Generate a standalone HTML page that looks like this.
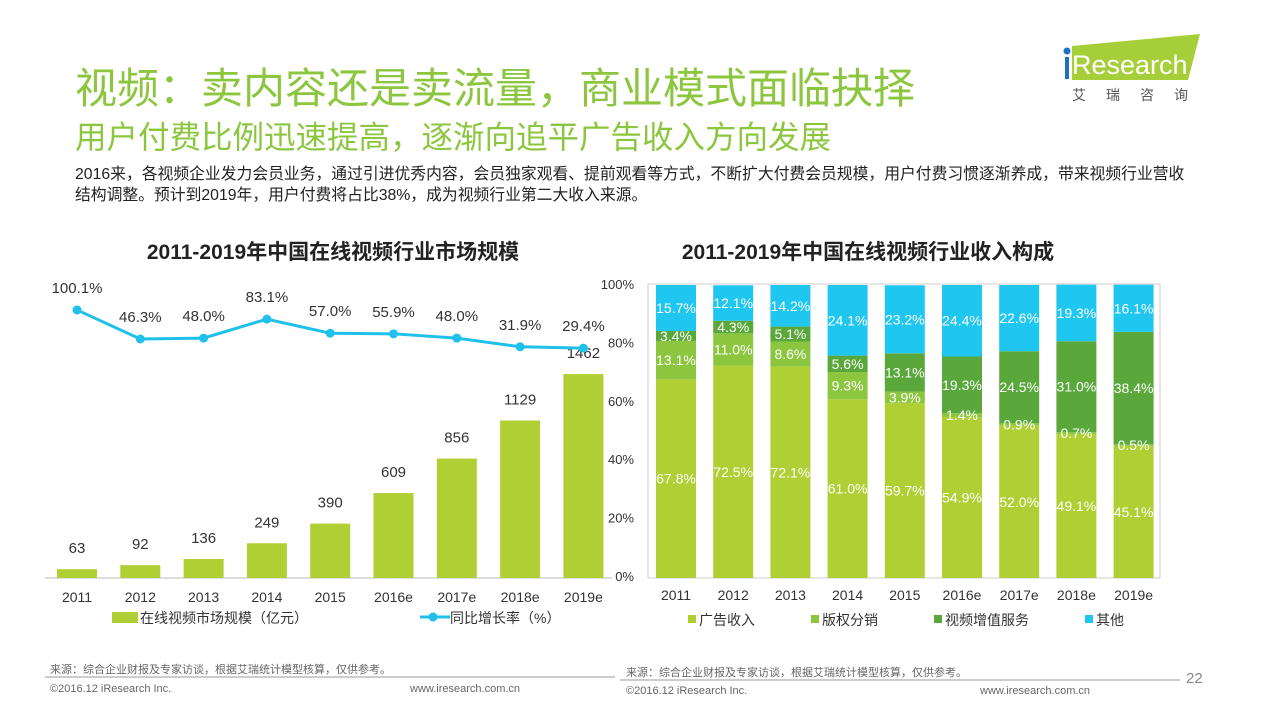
<!DOCTYPE html>
<html><head><meta charset="utf-8"><style>
body{margin:0;width:1266px;height:712px;background:#fff;overflow:hidden;font-family:"Liberation Sans","Noto Sans CJK SC",sans-serif;position:relative}
.abs{position:absolute;white-space:nowrap}
svg text{font-family:"Liberation Sans","Noto Sans CJK SC",sans-serif}
</style></head><body>
<div class="abs" style="left:75px;top:55px;font-size:42px;color:#8cc63f">视频：卖内容还是卖流量，商业模式面临抉择</div>
<div class="abs" style="left:75px;top:112px;font-size:31.5px;color:#8cc63f">用户付费比例迅速提高，逐渐向追平广告收入方向发展</div>
<div class="abs" style="left:75px;top:164px;font-size:15.8px;line-height:21px;color:#222">2016来，各视频企业发力会员业务，通过引进优秀内容，会员独家观看、提前观看等方式，不断扩大付费会员规模，用户付费习惯逐渐养成，带来视频行业营收<br>结构调整。预计到2019年，用户付费将占比38%，成为视频行业第二大收入来源。</div>
<div class="abs" style="left:1060px;top:34px;width:145px;height:70px">
<svg width="145" height="70"><polygon points="12,12 140,0 128,46 12,46" fill="#a6ce39"/><circle cx="7" cy="17" r="3.5" fill="#1e73be"/><rect x="5" y="23" width="4" height="22" fill="#1e73be"/>
<text x="12" y="40" font-size="27" fill="#fff">Research</text>
<text x="12" y="66" font-size="14" fill="#555" letter-spacing="20">艾瑞咨询</text></svg></div>

<svg class="abs" style="left:0;top:0" width="1266" height="712" id="charts">
<text x="333" y="259" text-anchor="middle" font-size="21" font-weight="bold" fill="#222">2011-2019年中国在线视频行业市场规模</text>
<text x="868" y="259" text-anchor="middle" font-size="21" font-weight="bold" fill="#222">2011-2019年中国在线视频行业收入构成</text>
<g id="left"></g><g id="right"></g><g id="rlabels"></g>
<line x1="45" y1="677" x2="615" y2="677" stroke="#999"/><line x1="620" y1="680" x2="1180" y2="680" stroke="#999"/>
</svg>
<div class="abs" style="left:50px;top:661px;font-size:11px;color:#666">来源：综合企业财报及专家访谈，根据艾瑞统计模型核算，仅供参考。</div>
<div class="abs" style="left:626px;top:664px;font-size:11px;color:#666">来源：综合企业财报及专家访谈，根据艾瑞统计模型核算，仅供参考。</div>
<div class="abs" style="left:50px;top:683px;font-size:11px;color:#666">©2016.12 iResearch Inc.</div>
<div class="abs" style="left:410px;top:683px;font-size:11px;color:#666">www.iresearch.com.cn</div>
<div class="abs" style="left:626px;top:685px;font-size:11px;color:#666">©2016.12 iResearch Inc.</div>
<div class="abs" style="left:980px;top:685px;font-size:11px;color:#666">www.iresearch.com.cn</div>
<div class="abs" style="left:1186px;top:670px;font-size:15px;color:#888">22</div>
<script>
const years=["2011","2012","2013","2014","2015","2016e","2017e","2018e","2019e"];
const market=[63,92,136,249,390,609,856,1129,1462];
const growth=[100.1,46.3,48.0,83.1,57.0,55.9,48.0,31.9,29.4];
const growthLabels=["100.1%","46.3%","48.0%","83.1%","57.0%","55.9%","48.0%","31.9%","29.4%"];
const pctTicks=[0,20,40,60,80,100];
const ad=[67.8,72.5,72.1,61.0,59.7,54.9,52.0,49.1,45.1];
const copyr=[13.1,11.0,8.6,9.3,3.9,1.4,0.9,0.7,0.5];
const vas=[3.4,4.3,5.1,5.6,13.1,19.3,24.5,31.0,38.4];
const other=[15.7,12.1,14.2,24.1,23.2,24.4,22.6,19.3,16.1];
const NS="http://www.w3.org/2000/svg";
function mk(p,tag,a,txt){const e=document.createElementNS(NS,tag);for(const k in a)e.setAttribute(k,a[k]);if(txt!=null)e.textContent=txt;p.appendChild(e);return e;}
const L=document.getElementById('left');
const lx=i=>77+i*63.3, base=578, ly=v=>base-v*0.1395, gy=v=>364-v*0.54;
let e=mk(L,'line',{x1:45,y1:base,x2:612,y2:base,stroke:'#bbb'});

pctTicks.forEach(t=>{e=mk(L,'text',{x:634,y:576-t*2.92+5,'text-anchor':'end','font-size':13,fill:'#333'},t+'%');
});
market.forEach((v,i)=>{
e=mk(L,'rect',{x:lx(i)-20,y:ly(v),width:40,height:base-ly(v),fill:'#b0cf34'});

e=mk(L,'text',{x:lx(i),y:ly(v)-16,'text-anchor':'middle','font-size':15,fill:'#333'},String(v));

e=mk(L,'text',{x:lx(i),y:602,'text-anchor':'middle','font-size':14,fill:'#333'},years[i]);
});
e=mk(L,'polyline',{points:growth.map((v,i)=>lx(i)+','+gy(v)).join(' '),fill:'none',stroke:'#1fc0ea','stroke-width':3});

growth.forEach((v,i)=>{e=mk(L,'circle',{cx:lx(i),cy:gy(v),r:4.5,fill:'#1fc0ea'});

e=mk(L,'text',{x:lx(i),y:gy(v)-17,'text-anchor':'middle','font-size':15,fill:'#333'},growthLabels[i]);
});
e=mk(L,'rect',{x:112,y:612,width:26,height:11,fill:'#b0cf34'});
e=mk(L,'text',{x:140,y:623,'font-size':14,fill:'#333'},'在线视频市场规模（亿元）');
e=mk(L,'line',{x1:420,y1:617,x2:450,y2:617,stroke:'#1fc0ea','stroke-width':3});
e=mk(L,'circle',{cx:433,cy:617,r:4.5,fill:'#1fc0ea'});
e=mk(L,'text',{x:450,y:623,'font-size':14,fill:'#333'},'同比增长率（%）');

const R=document.getElementById('right'), RL=document.getElementById('rlabels');
const rx=i=>676+i*57.2, rTop=285, rBot=578, ry=p=>rBot-p*(rBot-rTop)/100;
e=mk(R,'rect',{x:648,y:rTop-1,width:512,height:rBot-rTop+1,fill:'none',stroke:'#ccc'});
const series=[[ad,'#b0cf34','ad'],[copyr,'#8cc63f','copyright'],[vas,'#5aa83c','value-added'],[other,'#1ec6f0','other']];
years.forEach((y,i)=>{let acc=0;
series.forEach(([arr,c,n])=>{const v=arr[i];
e=mk(R,'rect',{x:rx(i)-20,y:ry(acc+v),width:40,height:ry(acc)-ry(acc+v),fill:c});

e=mk(RL,'text',{x:rx(i),y:(ry(acc)+ry(acc+v))/2+5,'text-anchor':'middle','font-size':14,fill:'#fff'},v.toFixed(1)+'%');
acc+=v;});
e=mk(R,'text',{x:rx(i),y:600,'text-anchor':'middle','font-size':14,fill:'#333'},y);
});
const leg=[['广告收入','#b0cf34',688],['版权分销','#8cc63f',811],['视频增值服务','#5aa83c',934],['其他','#1ec6f0',1085]];
leg.forEach(([t,c,x])=>{e=mk(R,'rect',{x:x,y:615,width:8,height:8,fill:c});
e=mk(R,'text',{x:x+11,y:625,'font-size':14,fill:'#333'},t);});
</script>
</body></html>
